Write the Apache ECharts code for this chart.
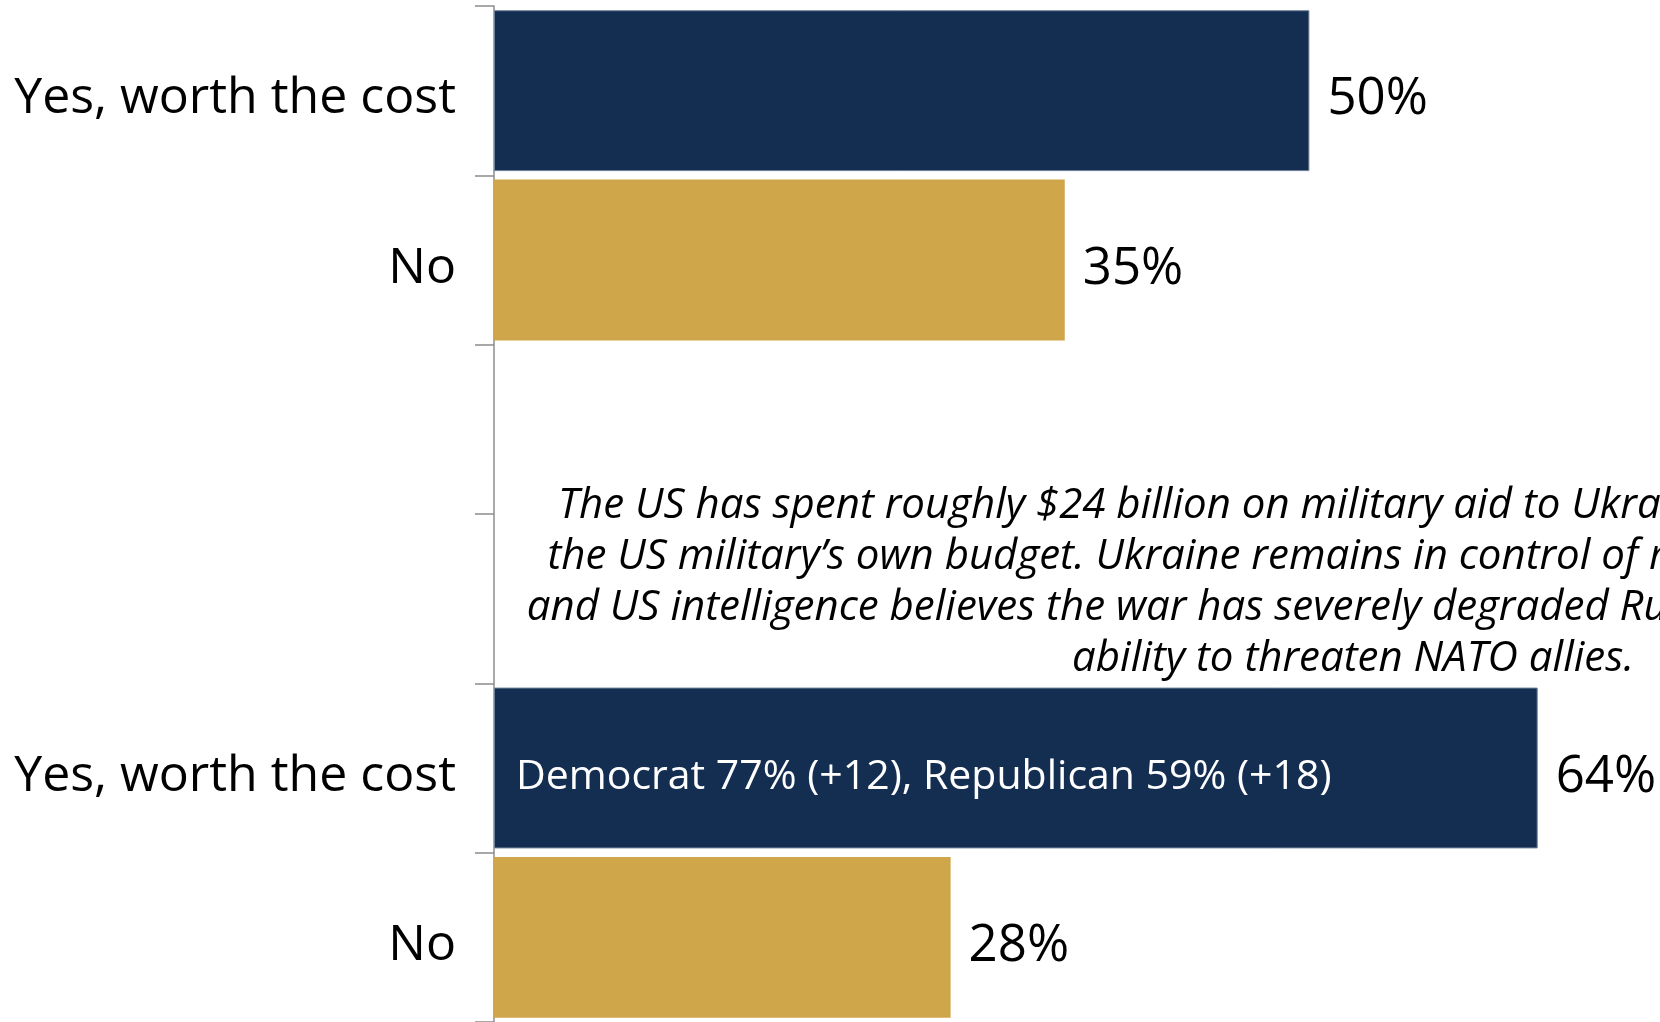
<!DOCTYPE html>
<html><head><meta charset="utf-8">
<script src="https://cdn.jsdelivr.net/npm/echarts@6/dist/echarts.min.js"></script>
<style>html,body{margin:0;padding:0;background:#fff}#c{width:1660px;height:1022px}</style>
</head><body><div id="c"></div>
<script>
const categories = ['Yes, worth the cost', 'No', '', '', 'Yes, worth the cost', 'No'];
const values = [50, 35, null, null, 64, 28];
const barColors = ['#142E52', '#CFA64A', null, null, '#142E52', '#CFA64A'];
const insideNotes = ['', '', '', '', 'Democrat 77% (+12), Republican 59% (+18)', ''];
const noteLines = [
  'The US has spent roughly $24 billion on military aid to Ukraine, which is around 3% of',
  'the US military\u2019s own budget. Ukraine remains in control of most of its prewar territory,',
  'and US intelligence believes the war has severely degraded Russia\u2019s military power and its',
  'ability to threaten NATO allies.'
];
const FONT = '"Open Sans", "Noto Sans", sans-serif';
const chart = echarts.init(document.getElementById('c'));
chart.setOption({
  animation: false,
  grid: { left: 494, right: 0, top: 6, bottom: 0, containLabel: false },
  xAxis: { type: 'value', min: 0, max: 71.5, show: false },
  yAxis: {
    type: 'category', data: categories, inverse: true,
    axisLine: { show: true, lineStyle: { color: '#8c8c8c', width: 1.5 } },
    axisTick: { show: true, length: 19, lineStyle: { color: '#8c8c8c', width: 1.5 } },
    axisLabel: { color: '#000', fontSize: 50, fontFamily: FONT, margin: 38, verticalAlign: 'top', lineHeight: 17 },
    splitLine: { show: false }
  },
  series: [{
    type: 'bar', barCategoryGap: '5%',
    data: values.map((v, i) => ({
      value: v,
      itemStyle: { color: barColors[i], borderColor: barColors[i] === '#142E52' ? '#6f819a' : barColors[i], borderWidth: barColors[i] === '#142E52' ? 1 : 0 }
    })),
    label: { show: true, position: 'right', distance: 18, offset: [0, 9], color: '#000', fontSize: 51, fontFamily: FONT, formatter: p => p.value == null ? '' : p.value + '%' }
  }, {
    type: 'bar', barGap: '-100%', barCategoryGap: '5%', silent: true,
    data: values.map((v, i) => insideNotes[i] ? v : null),
    itemStyle: { color: 'rgba(0,0,0,0)' },
    label: { show: true, position: 'insideLeft', distance: 22, offset: [0, 9], color: '#fff', fontSize: 41, fontFamily: FONT,
      formatter: p => insideNotes[p.dataIndex] }
  }],
  graphic: [{
    type: 'text', x: 1353, y: 481,
    style: { text: noteLines.join('\n'), textAlign: 'center', textVerticalAlign: 'top', fill: '#000',
      font: 'italic 42px ' + FONT, lineHeight: 51 }
  }]
});
</script></body></html>
